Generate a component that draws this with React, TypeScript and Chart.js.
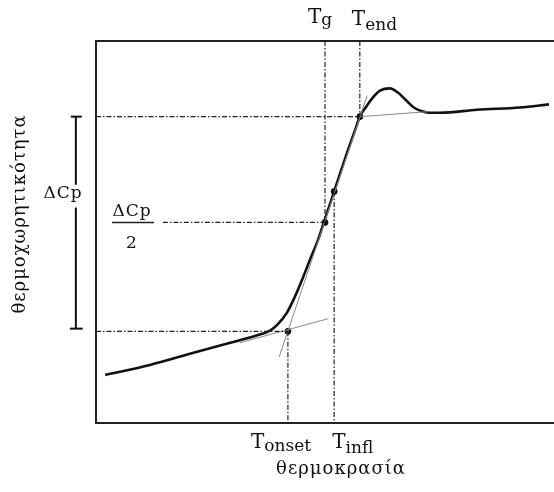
import React, { useEffect, useRef } from "react";
import { Chart, registerables } from "chart.js";

Chart.register(...registerables);

// Arbitrary units: temperature (x) and heat capacity (y)
const tempRange = [0, 100];
const cpRange = [0, 100];

// DSC heat-capacity curve through the glass transition
const curveT = [2.0, 11.8, 20.5, 29.3, 34.7, 38.0, 39.5, 41.7, 43.4, 45.0, 46.7, 48.5, 49.8, 52.0, 54.6, 56.6, 57.6, 59.0, 60.3, 62.0, 64.2, 65.9, 67.7, 69.4, 71.2, 72.9, 75.1, 83.2, 92.6, 98.9];
const curveCp = [12.6, 15.2, 18.1, 21.0, 22.8, 24.2, 25.6, 28.9, 33.0, 37.5, 42.7, 48.0, 52.7, 60.6, 70.0, 76.8, 80.2, 82.8, 85.0, 87.0, 87.6, 86.5, 84.5, 82.6, 81.6, 81.2, 81.2, 82.0, 82.6, 83.4];

// Characteristic temperatures
const T_onset = 41.9;
const T_g = 50.0;
const T_infl = 52.0;
const T_end = 57.6;

// Heat-capacity levels
const Cp_low = 24.0;
const Cp_half = 52.5;
const Cp_high = 80.2;
const Cp_infl = 60.6;

// Tangent lines [x0, y0, x1, y1]
const lowerTangent = [31.4, 21.0, 50.7, 27.3];
const steepTangent = [40.0, 17.3, 59.2, 85.7];
const upperTangent = [57.6, 80.2, 72.5, 81.5];

// Half-level guide starts here
const halfLineStart = 14.6;

// ΔCp bracket (left of axis)
const bracketX = -4.4;
const bracketCap = [-5.5, -3.1];
const bracketGap = [56.4, 62.4];

const FONT = '"DejaVu Serif", serif';
const DASH = [5, 2, 1.5, 2];

function seg(x0: number, y0: number, x1: number, y1: number) {
  return [{ x: x0, y: y0 }, { x: x1, y: y1 }];
}

function drawSub(ctx: CanvasRenderingContext2D, x: number, yMain: number, ySub: number, main: string, sub: string, mainSize: number, subSize: number) {
  ctx.textAlign = "left";
  ctx.textBaseline = "alphabetic";
  ctx.font = `${mainSize}px ${FONT}`;
  ctx.fillText(main, x, yMain);
  const w = ctx.measureText(main).width;
  ctx.font = `${subSize}px ${FONT}`;
  ctx.fillText(sub, x + w, ySub);
}

const textPlugin = {
  id: "dscText",
  afterDatasetsDraw(chart: any) {
    const ctx: CanvasRenderingContext2D = chart.ctx;
    const xs = chart.scales.x;
    const ys = chart.scales.y;
    const area = chart.chartArea;
    ctx.save();
    ctx.fillStyle = "#111";
    const pOn = xs.getPixelForValue(T_onset);
    const pIn = xs.getPixelForValue(T_infl);
    const pG = xs.getPixelForValue(T_g);
    const pE = xs.getPixelForValue(T_end);
    drawSub(ctx, pOn - 37, area.bottom + 25, area.bottom + 28, "T", "onset", 20, 17);
    drawSub(ctx, pIn - 2, area.bottom + 25, area.bottom + 30, "T", "infl", 20, 17);
    drawSub(ctx, pG - 17, area.top - 18, area.top - 16, "T", "g", 20, 17);
    drawSub(ctx, pE - 8, area.top - 16, area.top - 11, "T", "end", 20, 17);

    (ctx as any).letterSpacing = "1px";
    // x title
    ctx.font = `18px ${FONT}`;
    ctx.textAlign = "center";
    ctx.textBaseline = "alphabetic";
    ctx.fillText("θερμοκρασία", (area.left + area.right) / 2 + 16, area.bottom + 51);

    // y title
    ctx.save();
    ctx.translate(20, (area.top + area.bottom) / 2 - 18);
    ctx.rotate(-Math.PI / 2);
    ctx.textBaseline = "middle";
    ctx.fillText("θερμοχωρητικότητα", 0, 0);
    ctx.restore();

    // ΔCp bracket label
    const gapMid = ys.getPixelForValue((bracketGap[0] + bracketGap[1]) / 2);
    ctx.textAlign = "center";
    ctx.textBaseline = "middle";
    ctx.font = `17px ${FONT}`;
    ctx.fillText("ΔCp", 63, gapMid - 3);

    // ΔCp / 2 fraction
    const pHalf = ys.getPixelForValue(Cp_half);
    ctx.textBaseline = "alphabetic";
    ctx.fillText("ΔCp", area.left + 36, pHalf - 6);
    ctx.fillText("2", area.left + 36, pHalf + 26);
    (ctx as any).letterSpacing = "0px";
    ctx.strokeStyle = "#222";
    ctx.lineWidth = 1.5;
    ctx.beginPath();
    ctx.moveTo(area.left + 16, pHalf);
    ctx.lineTo(area.left + 58, pHalf);
    ctx.stroke();
    ctx.restore();
  },
};

export default function App() {
  const ref = useRef<HTMLCanvasElement | null>(null);
  useEffect(() => {
    if (!ref.current) return;
    const guide = (pts: any[]) => ({
      data: pts,
      borderColor: "#222",
      borderWidth: 1.2,
      borderDash: DASH,
      pointRadius: 0,
      tension: 0,
      fill: false,
    });
    const tangent = (t: number[]) => ({
      data: seg(t[0], t[1], t[2], t[3]),
      borderColor: "#888",
      borderWidth: 1,
      pointRadius: 0,
      tension: 0,
      fill: false,
    });
    const bracket = (pts: any[]) => ({
      data: pts,
      borderColor: "#111",
      borderWidth: 2,
      pointRadius: 0,
      tension: 0,
      fill: false,
      clip: false as any,
    });
    const chart = new Chart(ref.current, {
      type: "line",
      data: {
        datasets: [
          guide(seg(tempRange[0], Cp_high, T_end, Cp_high)),
          guide(seg(tempRange[0], Cp_low, T_onset, Cp_low)),
          guide(seg(halfLineStart, Cp_half, T_g, Cp_half)),
          guide(seg(T_g, cpRange[1], T_g, Cp_half)),
          guide(seg(T_end, cpRange[1], T_end, Cp_high)),
          guide(seg(T_onset, Cp_low, T_onset, cpRange[0])),
          guide(seg(T_infl, Cp_infl, T_infl, cpRange[0])),
          tangent(lowerTangent),
          tangent(steepTangent),
          tangent(upperTangent),
          {
            data: curveT.map((t, i) => ({ x: t, y: curveCp[i] })),
            borderColor: "#111",
            borderWidth: 2.6,
            pointRadius: 0,
            cubicInterpolationMode: "monotone",
            fill: false,
          },
          {
            data: [
              { x: T_onset, y: Cp_low },
              { x: T_g, y: Cp_half },
              { x: T_infl, y: Cp_infl },
              { x: T_end, y: Cp_high },
            ],
            showLine: false,
            pointRadius: 3,
            pointBackgroundColor: "#111",
            pointBorderColor: "#111",
          },
          bracket(seg(bracketX, Cp_high, bracketX, bracketGap[1])),
          bracket(seg(bracketX, bracketGap[0], bracketX, Cp_low + 0.7)),
          bracket(seg(bracketCap[0], Cp_high, bracketCap[1], Cp_high)),
          bracket(seg(bracketCap[0] - 0.2, Cp_low + 0.7, bracketCap[1] + 0.2, Cp_low + 0.7)),
        ] as any,
      },
      options: {
        responsive: false,
        animation: false,
        devicePixelRatio: 1,
        events: [],
        layout: { padding: { left: 96, top: 41, right: 0, bottom: 69 } },
        plugins: { legend: { display: false }, tooltip: { enabled: false } },
        scales: {
          x: {
            type: "linear",
            position: "bottom",
            min: tempRange[0],
            max: tempRange[1],
            grid: { display: false, drawTicks: false },
            ticks: { display: false },
            border: { display: true, color: "#222", width: 2 },
          },
          xTop: {
            type: "linear",
            position: "top",
            min: tempRange[0],
            max: tempRange[1],
            grid: { display: false, drawTicks: false },
            ticks: { display: false },
            border: { display: true, color: "#222", width: 2 },
          },
          y: {
            type: "linear",
            min: cpRange[0],
            max: cpRange[1],
            grid: { display: false, drawTicks: false },
            ticks: { display: false },
            border: { display: true, color: "#222", width: 2 },
          },
        },
      } as any,
      plugins: [textPlugin],
    });
    return () => chart.destroy();
  }, []);
  return (
    <div style={{ position: "fixed", left: 0, top: 0, width: 554, height: 492, overflow: "hidden", background: "#fff" }}>
      <canvas ref={ref} width={559} height={492} style={{ width: 559, height: 492, display: "block" }} />
    </div>
  );
}
